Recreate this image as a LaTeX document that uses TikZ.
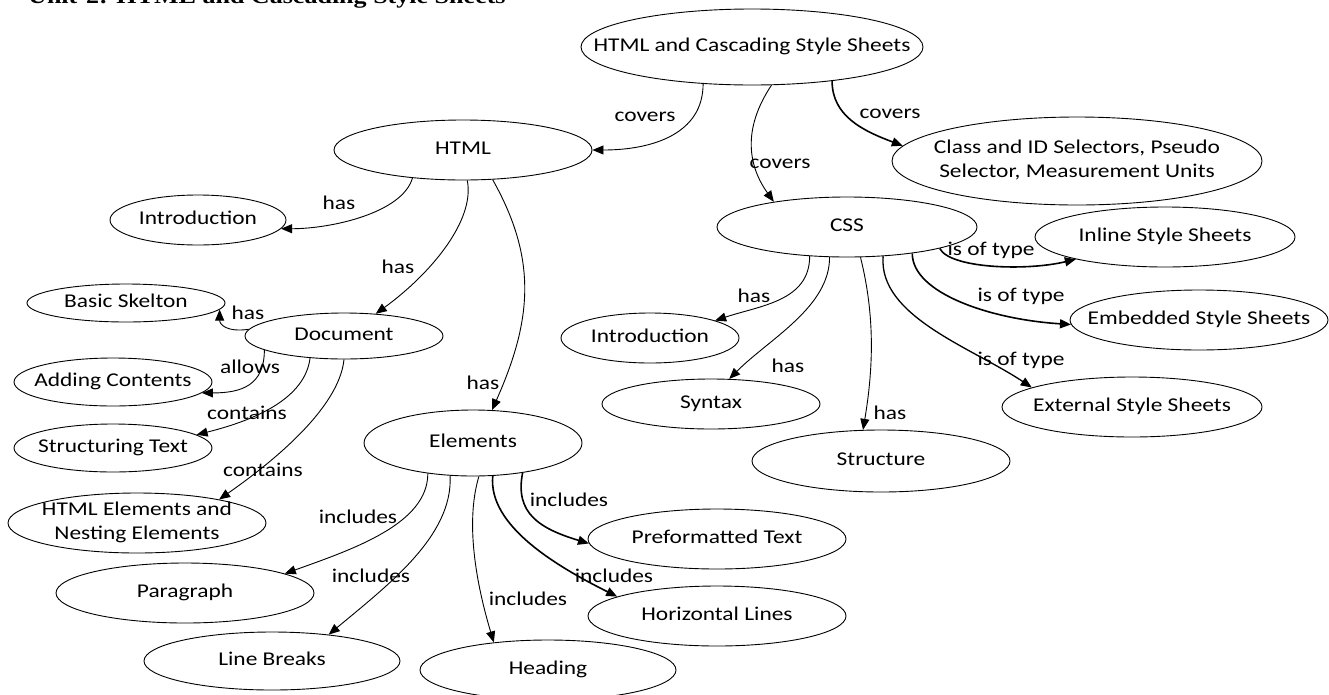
\documentclass[tikz,border=0pt]{standalone}
\usepackage{fontspec}
\setmainfont{Carlito}[FakeStretch=1.2]
\newfontfamily\titlefont{Liberation Serif}[FakeStretch=1.2]
\usetikzlibrary{shapes.geometric,arrows.meta}

% centred text that does not widen its ellipse
\newcommand{\ctext}[1]{\makebox[0pt]{\raisebox{\dimexpr(\depth-\height)/2\relax}[0pt][0pt]{\begin{tabular}{@{}c@{}}#1\end{tabular}}}}

\begin{document}
\begin{tikzpicture}[x=1pt,y=-1pt,
  every node/.style={font=\fontsize{19.5}{23.4}\selectfont, inner sep=0pt},
  bub/.style={ellipse, draw, line width=0.9pt},
  link/.style={draw, line width=0.9pt, -{Triangle[length=11pt,width=9pt]}},
  heavy/.style={line width=1.6pt},
  medium/.style={line width=1.3pt}]

\useasboundingbox (0,0) rectangle (1329,694);

% heading of the page
\node[anchor=base west, font=\titlefont\bfseries\fontsize{21.7}{26}\selectfont] (title) at (28,3.5) {Unit-2: HTML and Cascading Style Sheets};

% concepts
\node[bub, minimum width=342pt, minimum height=76pt] (root) at (752,47) {\ctext{HTML and Cascading Style Sheets}};
\node[bub, minimum width=258pt, minimum height=60pt] (html) at (463,150) {\ctext{HTML}};
\node[bub, minimum width=176pt, minimum height=50pt] (intro1) at (198,220) {\ctext{Introduction}};
\node[bub, minimum width=198pt, minimum height=38pt] (skel) at (126,303) {\ctext{Basic Skelton}};
\node[bub, minimum width=198pt, minimum height=46pt] (doc) at (344,336) {\ctext{Document}};
\node[bub, minimum width=198pt, minimum height=48pt] (adding) at (113,382) {\ctext{Adding Contents}};
\node[bub, minimum width=198pt, minimum height=48pt] (structtxt) at (113,448) {\ctext{Structuring Text}};
\node[bub, minimum width=258pt, minimum height=60pt] (htmlel) at (137,523) {\ctext{HTML Elements and\\Nesting Elements}};
\node[bub, minimum width=258pt, minimum height=60pt] (para) at (185,593) {\ctext{Paragraph}};
\node[bub, minimum width=256pt, minimum height=58pt] (lbreaks) at (272,661) {\ctext{Line Breaks}};
\node[bub, minimum width=218pt, minimum height=66pt] (elem) at (473,443) {\ctext{Elements}};
\node[bub, minimum width=258pt, minimum height=60pt] (pre) at (717,539) {\ctext{Preformatted Text}};
\node[bub, minimum width=258pt, minimum height=60pt] (hlines) at (717,616) {\ctext{Horizontal Lines}};
\node[bub, minimum width=256pt, minimum height=60pt] (heading) at (548,670) {\ctext{Heading}};
\node[bub, minimum width=370pt, minimum height=88pt] (sel) at (1077,161) {\ctext{Class and ID Selectors, Pseudo\\Selector, Measurement Units}};
\node[bub, minimum width=260pt, minimum height=60pt] (css) at (847,227) {\ctext{CSS}};
\node[bub, minimum width=260pt, minimum height=60pt] (inline) at (1165,237) {\ctext{Inline Style Sheets}};
\node[bub, minimum width=258pt, minimum height=60pt] (embedded) at (1199,320) {\ctext{Embedded Style Sheets}};
\node[bub, minimum width=260pt, minimum height=60pt] (external) at (1132,407) {\ctext{External Style Sheets}};
\node[bub, minimum width=178pt, minimum height=50pt] (intro2) at (650,338) {\ctext{Introduction}};
\node[bub, minimum width=218pt, minimum height=50pt] (syntax) at (711,404) {\ctext{Syntax}};
\node[bub, minimum width=258pt, minimum height=62pt] (structure) at (881,461) {\ctext{Structure}};

% links from the root
\draw[link] (root.217) .. controls +(0,50) and +(60,0) .. (html.east);
\draw[link] (root.-63) .. controls +(-30,45) and +(-25,-35) .. (css.161);
\draw[link, heavy] (root.-23) .. controls +(0,35) and +(-40,-15) .. (sel.175);

% HTML branch
\draw[link] (html.209) .. controls +(-10,35) and +(50,0) .. (intro1.-6);
\draw[link] (html.-82) .. controls +(8,40) and +(55,-40) .. (doc.35);
\draw[link] (html.-45) .. controls +(45,80) and +(40,-90) .. (elem.60);

\draw[link] (doc.176) .. controls +(-22,3) and +(0,15) .. (skel.-4);
\draw[link] (doc.190) .. controls +(0,35) and +(40,0) .. (adding.-7);
\draw[link] (doc.213) .. controls +(-5,40) and +(60,-15) .. (structtxt.9);
\draw[link] (doc.-90) .. controls +(-5,50) and +(50,-35) .. (htmlel.16);

\draw[link] (elem.214) .. controls +(0,50) and +(70,-25) .. (para.11);
\draw[link] (elem.235) .. controls +(3,60) and +(60,-50) .. (lbreaks.25);
\draw[link] (elem.-80) .. controls +(-15,50) and +(-15,-50) .. (heading.153);
\draw[link, heavy] (elem.-59) .. controls +(-5,50) and +(-60,-30) .. (hlines.169);
\draw[link, heavy] (elem.-31) .. controls +(-8,40) and +(-50,-15) .. (pre.182);

% CSS branch
\draw[link] (css.218) .. controls +(0,45) and +(45,-15) .. (intro2.15);
\draw[link] (css.240) .. controls +(0,50) and +(40,-40) .. (syntax.54);
\draw[link] (css.-66) .. controls +(15,60) and +(10,-60) .. (structure.120);
\draw[link, heavy] (css.-13) .. controls +(10,20) and +(-50,12) .. (inline.194);
\draw[link, heavy] (css.-22) .. controls +(0,40) and +(-80,-5) .. (embedded.182);
\draw[link, medium] (css.-39) .. controls +(-5,60) and +(-60,-40) .. (external.169);

% link labels
\node (lc1) at (645,117) {covers};
\node (lc2) at (780,164) {covers};
\node (lc3) at (890,114) {covers};
\node (lh1) at (339,203) {has};
\node (lh2) at (398,267) {has};
\node (lh3) at (483,383) {has};
\node (lh4) at (248,313) {has};
\node (la1) at (250,367) {allows};
\node (lt1) at (247,413) {contains};
\node (lt2) at (263,470) {contains};
\node (li1) at (358,517) {includes};
\node (li2) at (371,576) {includes};
\node (li3) at (528,599) {includes};
\node (li4) at (614,576) {includes};
\node (li5) at (569,500) {includes};
\node (lh5) at (754,296) {has};
\node (lh6) at (788,366) {has};
\node (lh7) at (890,413) {has};
\node (ly1) at (991,250) {is of type};
\node (ly2) at (1021,296) {is of type};
\node (ly3) at (1021,360) {is of type};
\end{tikzpicture}
\end{document}
